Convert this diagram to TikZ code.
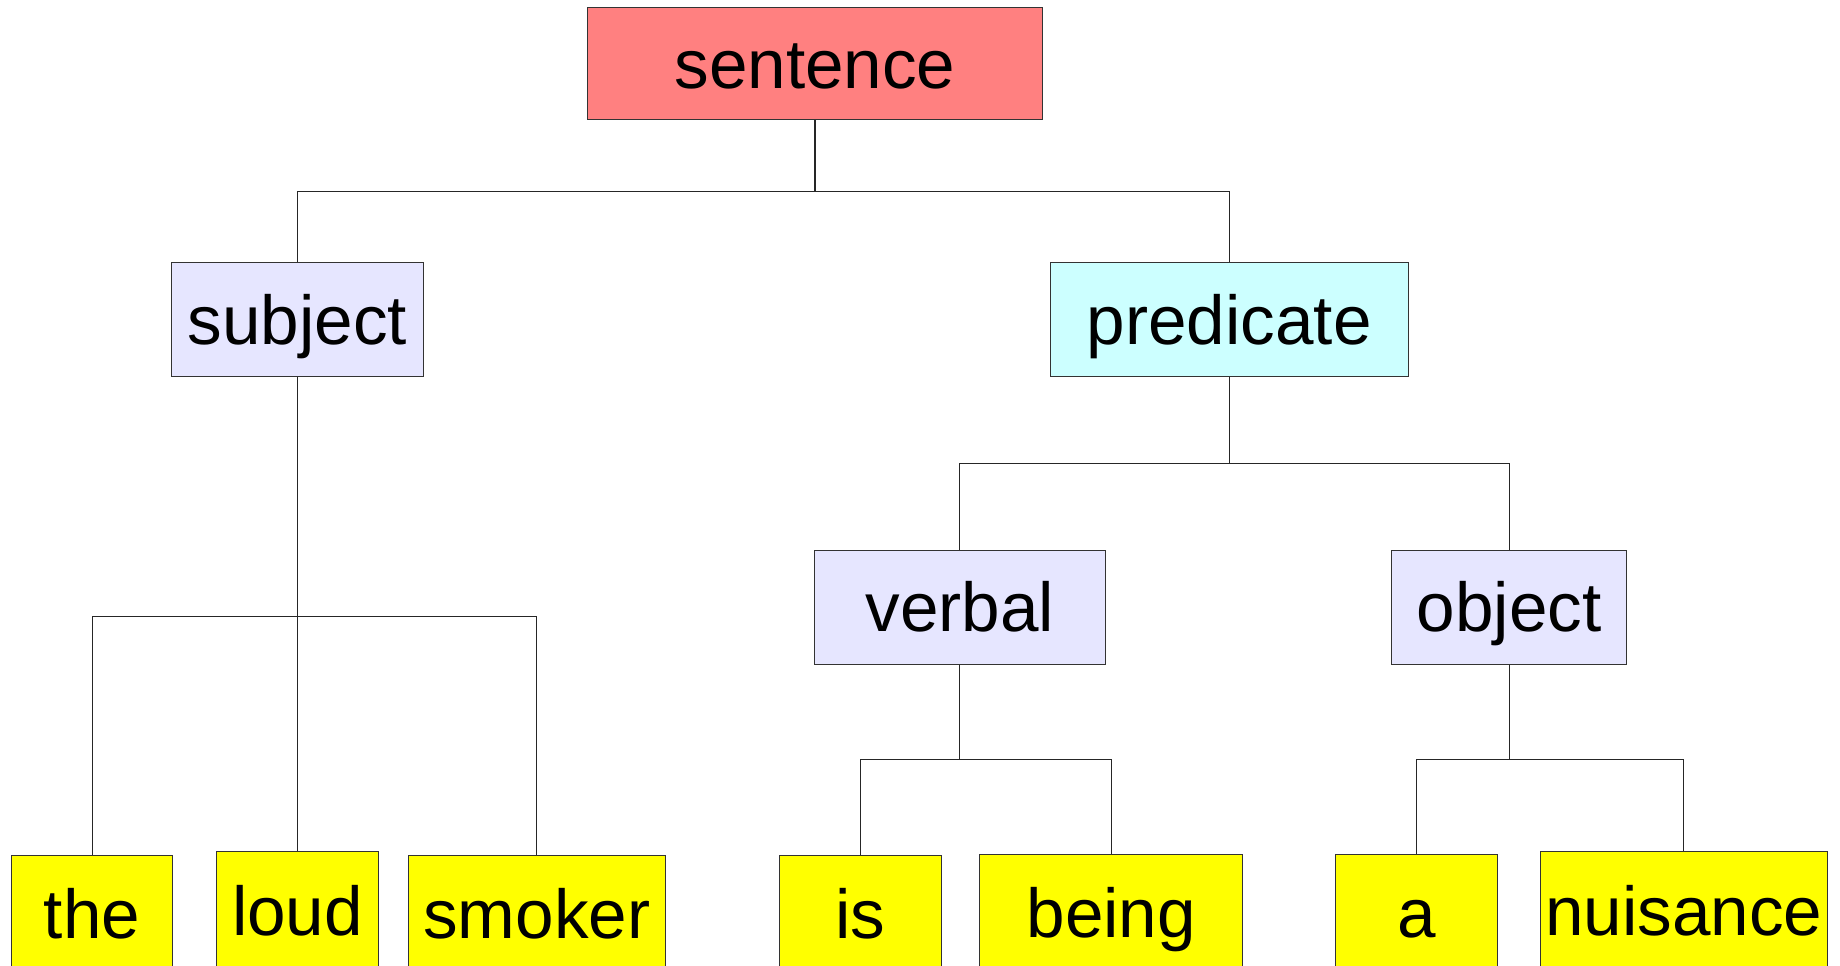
\documentclass[tikz,border=0pt]{standalone}
\usepackage{fontspec}
\setmainfont{Liberation Sans}
\definecolor{cSent}{HTML}{FF8080}
\definecolor{cLav}{HTML}{E6E6FF}
\definecolor{cCyan}{HTML}{CCFFFF}
\definecolor{cLeaf}{HTML}{FFFF00}
\begin{document}
\begin{tikzpicture}[x=1pt,y=-1pt,
  box/.style={draw=black!80,line width=0.9pt,rectangle,inner sep=0pt,
    minimum height=97pt,text height=42pt,text depth=0pt,
    font=\fontsize{59}{70}\selectfont},
  leaf/.style={box,fill=cLeaf,minimum height=120pt,text height=22pt},
  conn/.style={draw=black!85,line width=0.9pt}]
\useasboundingbox (0,0) rectangle (1568,823.2);
% nodes
\node[box,fill=cSent,minimum width=387pt,minimum height=96pt] (sentence) at (694.5,54) {sentence};
\node[box,fill=cLav,minimum width=215pt] (subject) at (253.5,272.5) {subject};
\node[box,fill=cCyan,minimum width=305pt] (predicate) at (1047.5,272.5) {predicate};
\node[box,fill=cLav,minimum width=248pt] (verbal) at (818,517.5) {verbal};
\node[box,fill=cLav,minimum width=200pt] (object) at (1286,517.5) {object};
\node[leaf,minimum width=137pt] (the) at (78.5,789) {the};
\node[leaf,minimum width=138pt] (loud) at (253.5,786) {loud};
\node[leaf,minimum width=219pt] (smoker) at (457.5,789) {smoker};
\node[leaf,minimum width=138pt] (is) at (733,789) {is};
\node[leaf,minimum width=224pt] (being) at (947,788) {being};
\node[leaf,minimum width=138pt] (a) at (1207,788) {a};
\node[leaf,minimum width=244pt] (nuisance) at (1435,786) {nuisance};
% junctions
\coordinate (j0) at (694.5,163);
\coordinate (j1) at (253.5,525);
\coordinate (j2) at (1047.5,395);
\coordinate (j3) at (818,647);
\coordinate (j4) at (1286,647);
% connectors
\draw[conn] (sentence.south) -- (j0);
\draw[conn] (j0) -| (subject.north);
\draw[conn] (j0) -| (predicate.north);
\draw[conn] (subject.south) -- (j1);
\draw[conn] (j1) -| (the.north);
\draw[conn] (j1) -- (loud.north);
\draw[conn] (j1) -| (smoker.north);
\draw[conn] (predicate.south) -- (j2);
\draw[conn] (j2) -| (verbal.north);
\draw[conn] (j2) -| (object.north);
\draw[conn] (verbal.south) -- (j3);
\draw[conn] (j3) -| (is.north);
\draw[conn] (j3) -| (being.north);
\draw[conn] (object.south) -- (j4);
\draw[conn] (j4) -| (a.north);
\draw[conn] (j4) -| (nuisance.north);
\end{tikzpicture}
\end{document}
